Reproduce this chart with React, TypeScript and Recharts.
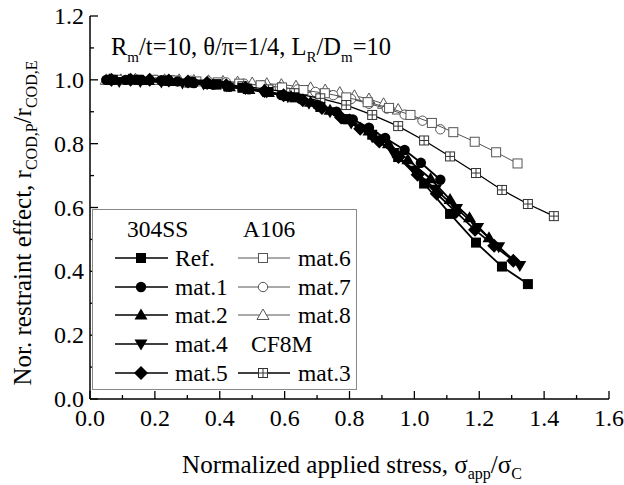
import React from 'react';
import { ScatterChart, Scatter, XAxis, YAxis, Legend } from 'recharts';

// tick values
const xMajor = [0, 0.2, 0.4, 0.6, 0.8, 1.0, 1.2, 1.4, 1.6];
const xMinor = [0.1, 0.3, 0.5, 0.7, 0.9, 1.1, 1.3, 1.5];
const yMajor = [0, 0.2, 0.4, 0.6, 0.8, 1.0, 1.2];
const yMinor = [0.1, 0.3, 0.5, 0.7, 0.9, 1.1];

// 304SS
const refX = [0.07, 0.15, 0.23, 0.31, 0.39, 0.47, 0.55, 0.63, 0.71, 0.79, 0.87, 0.95, 1.03, 1.11, 1.19, 1.27, 1.35];
const refY = [1.0, 1.0, 0.998, 0.993, 0.985, 0.975, 0.962, 0.945, 0.915, 0.877, 0.828, 0.758, 0.675, 0.58, 0.49, 0.415, 0.36];
const mat1X = [0.05, 0.11, 0.16, 0.22, 0.27, 0.32, 0.38, 0.43, 0.49, 0.54, 0.59, 0.65, 0.7, 0.76, 0.81, 0.86, 0.91, 0.97, 1.02, 1.08];
const mat1Y = [1.0, 1.0, 0.999, 0.998, 0.995, 0.99, 0.985, 0.978, 0.97, 0.962, 0.952, 0.94, 0.922, 0.9, 0.876, 0.85, 0.818, 0.78, 0.74, 0.687];
const mat2X = [0.06, 0.12, 0.18, 0.25, 0.31, 0.37, 0.43, 0.49, 0.55, 0.62, 0.68, 0.74, 0.8, 0.86, 0.92, 0.98, 1.05, 1.11, 1.17, 1.23];
const mat2Y = [1.0, 1.0, 0.998, 0.995, 0.99, 0.985, 0.978, 0.97, 0.96, 0.948, 0.93, 0.905, 0.875, 0.84, 0.8, 0.75, 0.69, 0.625, 0.568, 0.505];
const mat4X = [0.09, 0.155, 0.22, 0.285, 0.35, 0.415, 0.48, 0.545, 0.61, 0.675, 0.74, 0.805, 0.87, 0.935, 1.0, 1.065, 1.13, 1.195, 1.26, 1.325];
const mat4Y = [0.995, 0.995, 0.993, 0.99, 0.987, 0.982, 0.974, 0.962, 0.947, 0.927, 0.9, 0.865, 0.822, 0.772, 0.717, 0.657, 0.597, 0.537, 0.477, 0.418];
const mat5X = [0.066, 0.125, 0.184, 0.243, 0.302, 0.361, 0.42, 0.479, 0.538, 0.597, 0.656, 0.715, 0.774, 0.833, 0.892, 0.951, 1.01, 1.069, 1.128, 1.187, 1.246, 1.305];
const mat5Y = [1.0, 1.0, 1.0, 0.998, 0.995, 0.99, 0.983, 0.975, 0.965, 0.952, 0.936, 0.912, 0.882, 0.847, 0.807, 0.758, 0.703, 0.643, 0.586, 0.53, 0.48, 0.433];

// A106
const mat6X = [0.064, 0.13, 0.196, 0.262, 0.328, 0.394, 0.46, 0.526, 0.592, 0.658, 0.724, 0.79, 0.856, 0.922, 0.988, 1.054, 1.12, 1.186, 1.252, 1.318];
const mat6Y = [1.0, 1.0, 1.0, 0.998, 0.995, 0.992, 0.988, 0.983, 0.976, 0.968, 0.958, 0.945, 0.93, 0.912, 0.89, 0.865, 0.836, 0.806, 0.773, 0.738];
const mat7X = [0.09, 0.145, 0.2, 0.255, 0.31, 0.365, 0.42, 0.475, 0.53, 0.585, 0.64, 0.695, 0.75, 0.805, 0.86, 0.915, 0.97, 1.025, 1.08];
const mat7Y = [1.0, 1.0, 1.0, 0.999, 0.997, 0.995, 0.992, 0.988, 0.983, 0.977, 0.97, 0.962, 0.952, 0.94, 0.925, 0.91, 0.891, 0.872, 0.845];
const mat8X = [0.05, 0.095, 0.14, 0.185, 0.23, 0.275, 0.32, 0.365, 0.41, 0.455, 0.5, 0.545, 0.59, 0.635, 0.68, 0.725, 0.77, 0.815, 0.86, 0.905, 0.95];
const mat8Y = [1.0, 1.0, 1.002, 1.0, 1.0, 1.0, 0.998, 0.997, 0.995, 0.993, 0.99, 0.988, 0.985, 0.98, 0.975, 0.968, 0.96, 0.95, 0.94, 0.925, 0.907];

// CF8M
const mat3X = [0.07, 0.15, 0.23, 0.31, 0.39, 0.47, 0.55, 0.63, 0.71, 0.79, 0.87, 0.95, 1.03, 1.11, 1.19, 1.27, 1.35, 1.43];
const mat3Y = [1.0, 1.0, 0.997, 0.993, 0.987, 0.98, 0.97, 0.958, 0.942, 0.921, 0.89, 0.855, 0.81, 0.76, 0.708, 0.655, 0.611, 0.573];

const zip = (xs: number[], ys: number[]) => xs.map((x, i) => ({ x, y: ys[i] }));

const FONT = '"Liberation Serif", "Times New Roman", serif';
const GRAY = '#555';

type Kind = 'square' | 'circle' | 'triangle' | 'triangleDown' | 'diamond' |
  'openSquare' | 'openCircle' | 'openTriangle' | 'crossSquare';

function Marker({ kind, cx, cy }: { kind: Kind; cx: number; cy: number }) {
  const s = 5;
  switch (kind) {
    case 'square':
      return <rect x={cx - s} y={cy - s} width={2 * s} height={2 * s} fill="#000" />;
    case 'circle':
      return <circle cx={cx} cy={cy} r={5.2} fill="#000" />;
    case 'triangle':
      return <polygon points={`${cx},${cy - 6.5} ${cx + 6.5},${cy + 4.5} ${cx - 6.5},${cy + 4.5}`} fill="#000" />;
    case 'triangleDown':
      return <polygon points={`${cx},${cy + 6.5} ${cx + 6.5},${cy - 4.5} ${cx - 6.5},${cy - 4.5}`} fill="#000" />;
    case 'diamond':
      return <polygon points={`${cx},${cy - 7} ${cx + 7},${cy} ${cx},${cy + 7} ${cx - 7},${cy}`} fill="#000" />;
    case 'openSquare':
      return <rect x={cx - 4.5} y={cy - 4.5} width={9} height={9} fill="#fff" stroke={GRAY} strokeWidth={1} />;
    case 'openCircle':
      return <circle cx={cx} cy={cy} r={4.7} fill="#fff" stroke={GRAY} strokeWidth={1} />;
    case 'openTriangle':
      return <polygon points={`${cx},${cy - 6} ${cx + 6},${cy + 4.5} ${cx - 6},${cy + 4.5}`} fill="#fff" stroke={GRAY} strokeWidth={1} />;
    case 'crossSquare':
      return (
        <g>
          <rect x={cx - 4.5} y={cy - 4.5} width={9} height={9} fill="#fff" stroke="#333" strokeWidth={1} />
          <line x1={cx} y1={cy - 4.5} x2={cx} y2={cy + 4.5} stroke="#333" strokeWidth={1} />
          <line x1={cx - 4.5} y1={cy} x2={cx + 4.5} y2={cy} stroke="#333" strokeWidth={1} />
        </g>
      );
  }
  return null;
}

const shapeOf = (kind: Kind) => (p: any) => <Marker kind={kind} cx={p.cx} cy={p.cy} />;

const isMajor = (v: number, majors: number[]) => majors.some((m) => Math.abs(m - v) < 1e-6);

function BottomTick(props: any) {
  const { x, y, payload } = props;
  const major = isMajor(payload.value, xMajor);
  return (
    <g>
      <line x1={x} y1={y} x2={x} y2={y - (major ? 8 : 4)} stroke="#000" strokeWidth={1.3} />
      {major && (
        <text x={x} y={y + 27} textAnchor="middle" fontFamily={FONT} fontSize={24} fill="#000">
          {payload.value.toFixed(1)}
        </text>
      )}
    </g>
  );
}

function TopTick(props: any) {
  const { x, y, payload } = props;
  const major = isMajor(payload.value, xMajor);
  return <line x1={x} y1={y} x2={x} y2={y + (major ? 8 : 4)} stroke="#000" strokeWidth={1.3} />;
}

function LeftTick(props: any) {
  const { x, y, payload } = props;
  const major = isMajor(payload.value, yMajor);
  return (
    <g>
      <line x1={x} y1={y} x2={x + (major ? 8 : 4)} y2={y} stroke="#000" strokeWidth={1.3} />
      {major && (
        <text x={x - 6} y={y + 8} textAnchor="end" fontFamily={FONT} fontSize={24} fill="#000">
          {payload.value.toFixed(1)}
        </text>
      )}
    </g>
  );
}

function RightTick(props: any) {
  const { x, y, payload } = props;
  const major = isMajor(payload.value, yMajor);
  return <line x1={x} y1={y} x2={x - (major ? 8 : 4)} y2={y} stroke="#000" strokeWidth={1.3} />;
}

const legendLeft = [
  { name: 'Ref.', kind: 'square' as Kind },
  { name: 'mat.1', kind: 'circle' as Kind },
  { name: 'mat.2', kind: 'triangle' as Kind },
  { name: 'mat.4', kind: 'triangleDown' as Kind },
  { name: 'mat.5', kind: 'diamond' as Kind },
];
const legendRight = [
  { name: 'mat.6', kind: 'openSquare' as Kind, row: 0 },
  { name: 'mat.7', kind: 'openCircle' as Kind, row: 1 },
  { name: 'mat.8', kind: 'openTriangle' as Kind, row: 2 },
  { name: 'mat.3', kind: 'crossSquare' as Kind, row: 4 },
];

function LegendBox() {
  const rowY = [49, 78, 106, 135, 164];
  const txt = { fontFamily: FONT, fontSize: 23.5, fill: '#000' };
  return (
    <svg width={265} height={181} style={{ display: 'block' }}>
      <rect x={0.5} y={0.5} width={264} height={180} fill="#fff" stroke="#888" strokeWidth={1} />
      <text x={35} y={28} {...txt}>304SS</text>
      <text x={151} y={28} {...txt}>A106</text>
      <text x={159} y={rowY[3] + 8} {...txt}>CF8M</text>
      {legendLeft.map((it, i) => (
        <g key={it.name}>
          <line x1={23} y1={rowY[i]} x2={76} y2={rowY[i]} stroke="#000" strokeWidth={1.6} />
          <Marker kind={it.kind} cx={49} cy={rowY[i]} />
          <text x={83} y={rowY[i] + 8} {...txt}>{it.name}</text>
        </g>
      ))}
      {legendRight.map((it) => (
        <g key={it.name}>
          <line x1={146} y1={rowY[it.row]} x2={198} y2={rowY[it.row]}
            stroke={it.kind === 'crossSquare' ? '#000' : GRAY} strokeWidth={it.kind === 'crossSquare' ? 1.3 : 1} />
          <Marker kind={it.kind} cx={171} cy={rowY[it.row]} />
          <text x={206} y={rowY[it.row] + 8} {...txt}>{it.name}</text>
        </g>
      ))}
    </svg>
  );
}

const subSize = 15;

// y-axis title plus the in-plot parameter note
function LeftLabels() {
  return (
    <g>
      <text x={31} y={223} transform="rotate(-90, 31, 223)" textAnchor="middle"
        fontFamily={FONT} fontSize={25} fill="#000">
        Nor. restraint effect, r
        <tspan dy={6} fontSize={16}>COD,P</tspan>
        <tspan dy={-6}>/r</tspan>
        <tspan dy={6} fontSize={16}>COD,E</tspan>
      </text>
      <text x={111} y={55} fontFamily={FONT} fontSize={24.5} fill="#000">
        R<tspan dy={7} fontSize={subSize}>m</tspan>
        <tspan dy={-7}>/t=10, θ/π=1/4, L</tspan>
        <tspan dy={7} fontSize={subSize}>R</tspan>
        <tspan dy={-7}>/D</tspan>
        <tspan dy={7} fontSize={subSize}>m</tspan>
        <tspan dy={-7}>=10</tspan>
      </text>
    </g>
  );
}

export default function App() {
  return (
    <div style={{ width: 624, height: 485, background: '#fff' }}>
      <style>{'html,body{margin:0;padding:0;overflow:hidden;}'}</style>
      <ScatterChart width={624} height={485} margin={{ top: 16, right: 15, bottom: 0, left: 0 }}>
        <XAxis xAxisId="top" orientation="top" type="number" dataKey="x" domain={[0, 1.6]}
          ticks={[...xMajor, ...xMinor]} height={0} interval={0} tickLine={false} tickSize={0} tickMargin={0}
          tick={<TopTick />} axisLine={{ stroke: '#000', strokeWidth: 1.5 }} allowDataOverflow />
        <XAxis type="number" dataKey="x" domain={[0, 1.6]} ticks={[...xMajor, ...xMinor]} height={86}
          interval={0} tickLine={false} tickSize={0} tickMargin={0} tick={<BottomTick />}
          axisLine={{ stroke: '#000', strokeWidth: 1.5 }} allowDataOverflow
          label={{
            content: () => (
              <text x={352} y={473} textAnchor="middle" fontFamily={FONT} fontSize={25} fill="#000">
                Normalized applied stress, σ
                <tspan dy={6} fontSize={16}>app</tspan>
                <tspan dy={-6}>/σ</tspan>
                <tspan dy={6} fontSize={16}>C</tspan>
              </text>
            ),
          }}
        />
        <YAxis type="number" dataKey="y" domain={[0, 1.2]} ticks={[...yMajor, ...yMinor]} width={90}
          interval={0} tickLine={false} tickSize={0} tickMargin={0} tick={<LeftTick />}
          axisLine={{ stroke: '#000', strokeWidth: 1.5 }} allowDataOverflow
          label={{ content: () => <LeftLabels /> }}
        />
        <YAxis yAxisId="right" orientation="right" type="number" dataKey="y" domain={[0, 1.2]}
          ticks={[...yMajor, ...yMinor]} width={0} interval={0} tickLine={false} tickSize={0} tickMargin={0}
          tick={<RightTick />} axisLine={{ stroke: '#000', strokeWidth: 1.5 }} allowDataOverflow />

        <Scatter name="mat.8" data={zip(mat8X, mat8Y)} line={{ stroke: GRAY, strokeWidth: 1 }}
          shape={shapeOf('openTriangle')} isAnimationActive={false} />
        <Scatter name="mat.7" data={zip(mat7X, mat7Y)} line={{ stroke: GRAY, strokeWidth: 1 }}
          shape={shapeOf('openCircle')} isAnimationActive={false} />
        <Scatter name="mat.6" data={zip(mat6X, mat6Y)} line={{ stroke: GRAY, strokeWidth: 1 }}
          shape={shapeOf('openSquare')} isAnimationActive={false} />
        <Scatter name="mat.3" data={zip(mat3X, mat3Y)} line={{ stroke: '#000', strokeWidth: 1.3 }}
          shape={shapeOf('crossSquare')} isAnimationActive={false} />
        <Scatter name="mat.5" data={zip(mat5X, mat5Y)} line={{ stroke: '#000', strokeWidth: 1.8 }}
          shape={shapeOf('diamond')} isAnimationActive={false} />
        <Scatter name="mat.4" data={zip(mat4X, mat4Y)} line={{ stroke: '#000', strokeWidth: 1.8 }}
          shape={shapeOf('triangleDown')} isAnimationActive={false} />
        <Scatter name="mat.2" data={zip(mat2X, mat2Y)} line={{ stroke: '#000', strokeWidth: 1.8 }}
          shape={shapeOf('triangle')} isAnimationActive={false} />
        <Scatter name="mat.1" data={zip(mat1X, mat1Y)} line={{ stroke: '#000', strokeWidth: 1.8 }}
          shape={shapeOf('circle')} isAnimationActive={false} />
        <Scatter name="Ref." data={zip(refX, refY)} line={{ stroke: '#000', strokeWidth: 1.8 }}
          shape={shapeOf('square')} isAnimationActive={false} />

        <Legend layout="vertical" align="center" verticalAlign="middle" content={<LegendBox />}
          wrapperStyle={{ left: 92, top: 209, width: 265, height: 181 }} />
      </ScatterChart>
    </div>
  );
}
